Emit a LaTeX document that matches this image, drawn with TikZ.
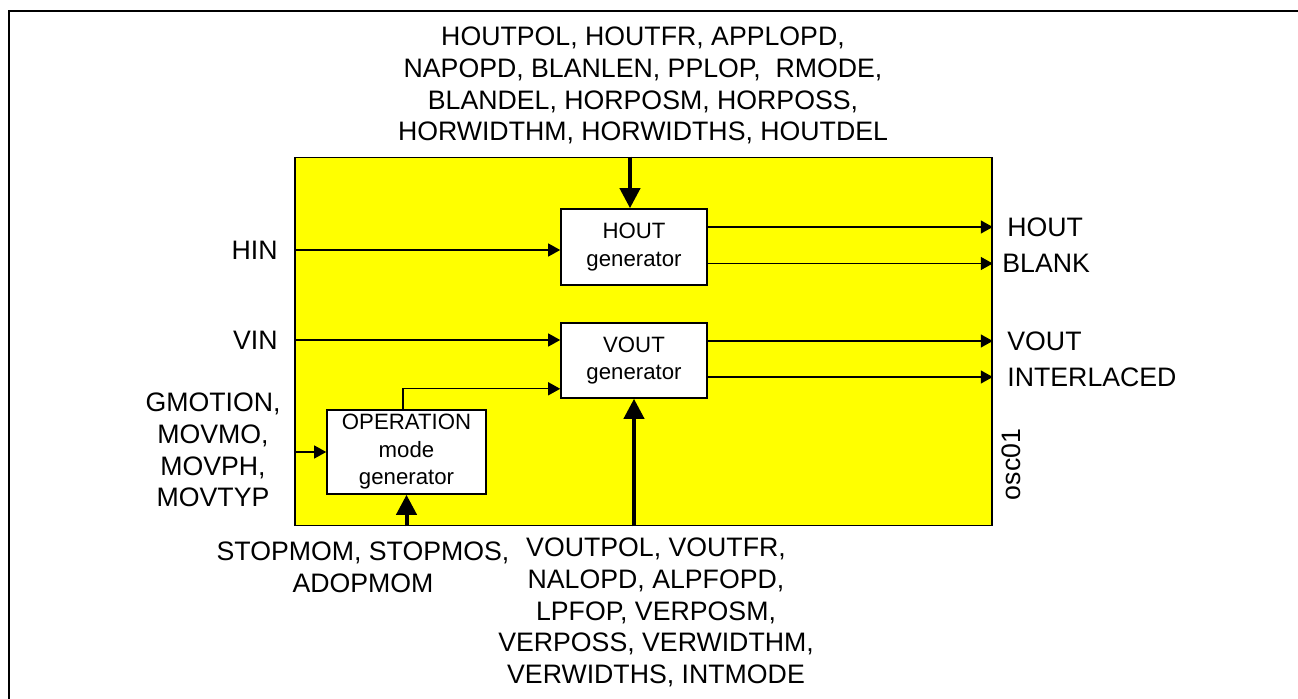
\documentclass[tikz,border=0pt]{standalone}
\usepackage{fontspec}
\setmainfont{Liberation Sans}
\usetikzlibrary{positioning,arrows.meta}
\definecolor{chipfill}{RGB}{255,255,0}

\begin{document}
\begin{tikzpicture}[x=0.5pt, y=-0.5pt,
  font=\fontsize{13.35}{15.9}\selectfont,
  chip/.style={draw, line width=0.8pt, fill=chipfill, inner sep=0pt},
  gen/.style={draw, line width=0.8pt, fill=white, align=center, inner sep=0pt, font=\fontsize{11.1}{13.75}\selectfont},
  arr/.style={-{Triangle[length=6pt, width=6.5pt]}, line width=0.6pt},
  bus/.style={-{Triangle[length=10pt, width=10pt]}, line width=2pt},
  lab/.style={align=center, inner sep=0pt}]
\useasboundingbox (0,0) rectangle (1298,699);
\draw[line width=1pt] (1302,11) -- (9,11) -- (9,703);

% the oscillator block and its generators
\node[chip, minimum width=348.5pt, minimum height=184pt] (osc) at (643.5,341.5) {};
\node[gen, minimum width=73pt, minimum height=38pt] (hout) at (634,247) {HOUT\\generator};
\node[gen, minimum width=73pt, minimum height=37.5pt] (vout) at (634,360.5) {VOUT\\generator};
\node[gen, minimum width=79.5pt, minimum height=42pt] (opgen) at (406.5,452) {OPERATION\\mode\\generator};

% inputs and outputs
\node[lab, anchor=east] (hin) at (278,250) {HIN};
\node[lab, anchor=east] (vin) at (278,340) {VIN};
\node[lab] (gmo) at (213,450) {GMOTION,\\MOVMO,\\MOVPH,\\MOVTYP};
\node[lab, anchor=west] (hol) at (1007,227) {HOUT};
\node[lab, anchor=west] (bll) at (1002,263.5) {BLANK};
\node[lab, anchor=west] (vol) at (1007,341) {VOUT};
\node[lab, anchor=west] (intl) at (1007,377) {INTERLACED};
\node[lab, rotate=90] (name) at (1011,464.5) {osc01};

% register groups
\node[lab] (hreg) at (643,85.5) {HOUTPOL, HOUTFR, APPLOPD,\\NAPOPD, BLANLEN, PPLOP, \ RMODE,\\BLANDEL, HORPOSM, HORPOSS,\\HORWIDTHM, HORWIDTHS, HOUTDEL};
\node[lab] (vreg) at (656,612.5) {VOUTPOL, VOUTFR,\\NALOPD, ALPFOPD,\\LPFOP, VERPOSM,\\VERPOSS, VERWIDTHM,\\VERWIDTHS, INTMODE};
\node[lab] (sreg) at (363,567) {STOPMOM, STOPMOS,\\ADOPMOM};

\draw[arr] (osc.west |- hin) -- (hout.west |- hin);
\draw[arr] (osc.west |- vin) -- (vout.west |- vin);
\draw[arr] (osc.west |- opgen) -- (opgen.west);
\draw[arr] ([xshift=-1.75pt]opgen.north) |- ([yshift=5pt]vout.south west);
\draw[arr] (hout.east |- hol) -- (osc.east |- hol);
\draw[arr] (hout.east |- bll) -- (osc.east |- bll);
\draw[arr] (vout.east |- vol) -- (osc.east |- vol);
\draw[arr] (vout.east |- intl) -- (osc.east |- intl);
\draw[bus] ([xshift=-2pt]hout.north |- osc.north) -- ([xshift=-2pt]hout.north);
\draw[bus] (vout.south |- osc.south) -- (vout.south);
\draw[bus] (opgen.south |- osc.south) -- (opgen.south);
\end{tikzpicture}
\end{document}
